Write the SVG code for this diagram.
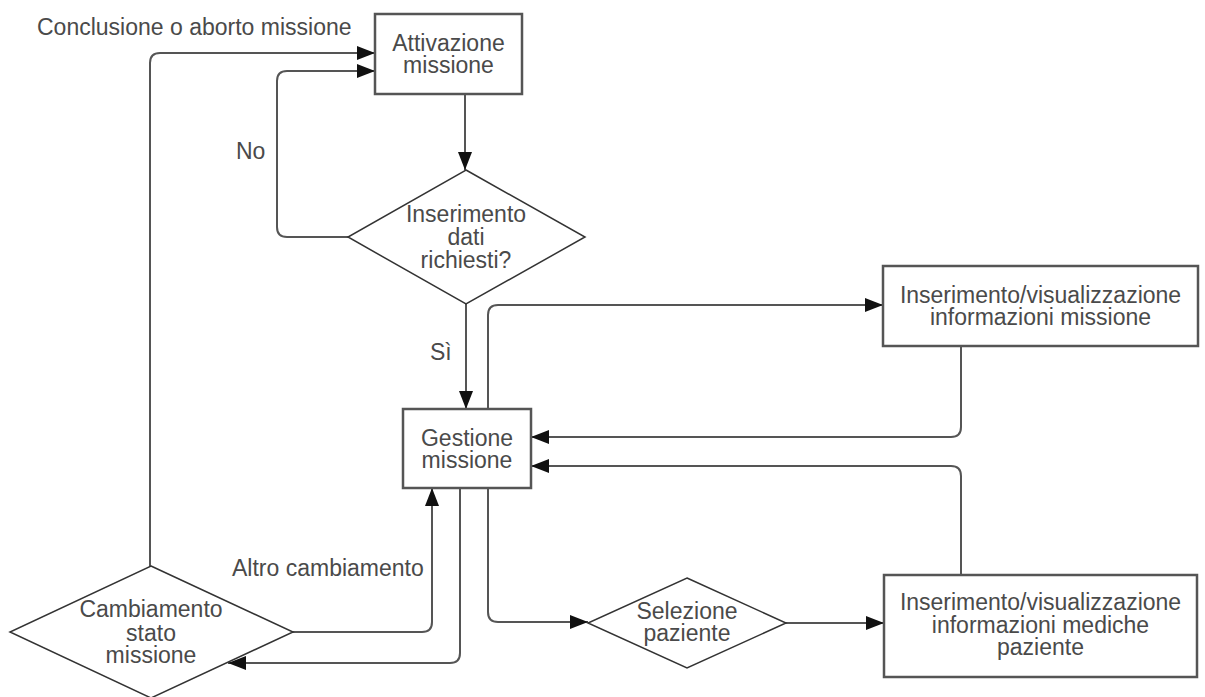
<svg xmlns="http://www.w3.org/2000/svg" width="1205" height="697" viewBox="0 0 1205 697">
  <style>
    .box { fill: #ffffff; stroke: #555555; stroke-width: 2.5; }
    .dia { fill: #ffffff; stroke: #333333; stroke-width: 1.5; }
    .lbl { font-family: "Liberation Sans", Arial, sans-serif; font-size: 23px; fill: #4a4a4a; }
    .mid { text-anchor: middle; }
    .edge { fill: none; stroke: #555555; stroke-width: 2; }
  </style>
  <defs>
    <marker id="arrow" markerUnits="userSpaceOnUse" markerWidth="19" markerHeight="15" refX="18" refY="7" orient="auto">
      <path d="M0,0 L18,7 L0,14 z" fill="#111111"/>
    </marker>
  </defs>
  <rect width="1205" height="697" fill="#ffffff"/>

  <!-- connectors -->
  <g id="connectors" class="edges">
    <path class="edge" d="M465,94 V170" marker-end="url(#arrow)"/>
    <path class="edge" d="M348,237 H287 Q277,237 277,227 V81 Q277,71 287,71 H375" marker-end="url(#arrow)"/>
    <path class="edge" d="M466,304 V409" marker-end="url(#arrow)"/>
    <path class="edge" d="M488,409 V315 Q488,305 498,305 H883" marker-end="url(#arrow)"/>
    <path class="edge" d="M961,346 V427 Q961,437 951,437 H531" marker-end="url(#arrow)"/>
    <path class="edge" d="M961,575 V476 Q961,466 951,466 H531" marker-end="url(#arrow)"/>
    <path class="edge" d="M488,488 V612 Q488,622 498,622 H588" marker-end="url(#arrow)"/>
    <path class="edge" d="M786,623 H884" marker-end="url(#arrow)"/>
    <path class="edge" d="M460,488 V653 Q460,663 450,663 H228" marker-end="url(#arrow)"/>
    <path class="edge" d="M293,632 H422 Q432,632 432,622 V488" marker-end="url(#arrow)"/>
    <path class="edge" d="M150,566 V63 Q150,53 160,53 H375" marker-end="url(#arrow)"/>
  </g>

  <!-- edge labels -->
  <g id="edge-labels">
    <text class="lbl" x="37" y="35">Conclusione o aborto missione</text>
    <text class="lbl" x="236" y="159">No</text>
    <text class="lbl" x="430" y="360">Sì</text>
    <text class="lbl" x="232" y="576">Altro cambiamento</text>
  </g>

  <g id="node-attivazione">
    <rect class="box" x="375" y="14" width="147" height="80"/>
    <text class="lbl mid" x="448.5" y="51">Attivazione</text>
    <text class="lbl mid" x="448.5" y="73">missione</text>
  </g>

  <g id="node-inserimento-dati">
    <polygon class="dia" points="466,170 585,237 466,304 348,237"/>
    <text class="lbl mid" x="466" y="222">Inserimento</text>
    <text class="lbl mid" x="466" y="245">dati</text>
    <text class="lbl mid" x="466" y="268">richiesti?</text>
  </g>

  <g id="node-gestione">
    <rect class="box" x="403" y="409" width="128" height="79"/>
    <text class="lbl mid" x="467" y="446">Gestione</text>
    <text class="lbl mid" x="467" y="468">missione</text>
  </g>

  <g id="node-info-missione">
    <rect class="box" x="883" y="266" width="315" height="80"/>
    <text class="lbl mid" x="1040.5" y="303">Inserimento/visualizzazione</text>
    <text class="lbl mid" x="1040.5" y="325">informazioni missione</text>
  </g>

  <g id="node-selezione">
    <polygon class="dia" points="687,578 786,623 687,668 588,623"/>
    <text class="lbl mid" x="687" y="619">Selezione</text>
    <text class="lbl mid" x="687" y="641">paziente</text>
  </g>

  <g id="node-info-mediche">
    <rect class="box" x="884" y="575" width="313" height="102"/>
    <text class="lbl mid" x="1040.5" y="610">Inserimento/visualizzazione</text>
    <text class="lbl mid" x="1040.5" y="633">informazioni mediche</text>
    <text class="lbl mid" x="1040.5" y="655">paziente</text>
  </g>

  <g id="node-cambiamento">
    <polygon class="dia" points="151,566 293,632 151,698 10,632"/>
    <text class="lbl mid" x="151" y="617">Cambiamento</text>
    <text class="lbl mid" x="151" y="641">stato</text>
    <text class="lbl mid" x="151" y="663">missione</text>
  </g>
</svg>
